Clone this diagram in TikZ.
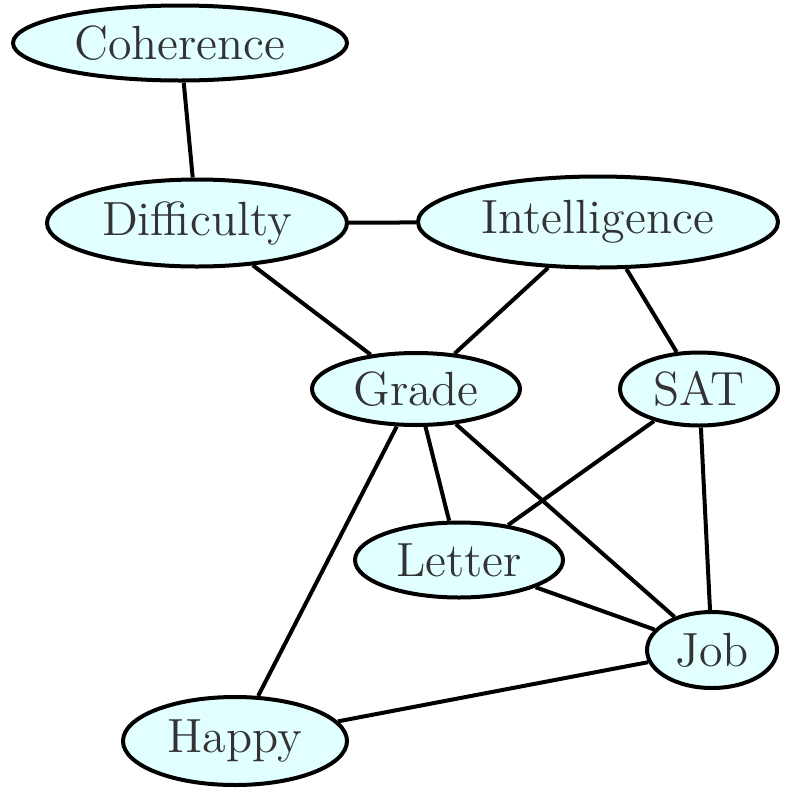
\documentclass[tikz,border=0pt]{standalone}
\usetikzlibrary{shapes.geometric}
\definecolor{nodefill}{HTML}{E2FFFF}
\definecolor{txt}{HTML}{333333}
\tikzset{
  gnode/.style={ellipse, draw=black, line width=1pt, fill=nodefill, inner sep=0pt,
    text=txt, font=\fontsize{12}{14}\selectfont},
  gedge/.style={draw=black, line width=1pt}
}
\begin{document}
\begin{tikzpicture}[x=0.25pt,y=-0.25pt]
\useasboundingbox (0,0) rectangle (793,793);
\node[gnode, minimum width=83.5pt, minimum height=18.75pt] (coh) at (180,43) {Coherence};
\node[gnode, minimum width=75pt, minimum height=21.75pt] (dif) at (197,223) {Difficulty};
\node[gnode, minimum width=90pt, minimum height=22.75pt] (int) at (598,222) {Intelligence};
\node[gnode, minimum width=52pt, minimum height=18pt] (gra) at (416,389) {Grade};
\node[gnode, minimum width=39.5pt, minimum height=18.25pt] (sat) at (699,389) {SAT};
\node[gnode, minimum width=52pt, minimum height=18.75pt] (let) at (459,560) {Letter};
\node[gnode, minimum width=32.5pt, minimum height=19pt] (job) at (712,650) {Job};
\node[gnode, minimum width=56pt, minimum height=22pt] (hap) at (235,741) {Happy};
\draw[gedge] (coh) -- (dif);
\draw[gedge] (dif) -- (int);
\draw[gedge] (dif) -- (gra);
\draw[gedge] (int) -- (gra);
\draw[gedge] (int) -- (sat);
\draw[gedge] (gra) -- (let);
\draw[gedge] (gra) -- (job);
\draw[gedge] (gra) -- (hap);
\draw[gedge] (sat) -- (let);
\draw[gedge] (sat) -- (job);
\draw[gedge] (let) -- (job);
\draw[gedge] (job) -- (hap);
\end{tikzpicture}
\end{document}
